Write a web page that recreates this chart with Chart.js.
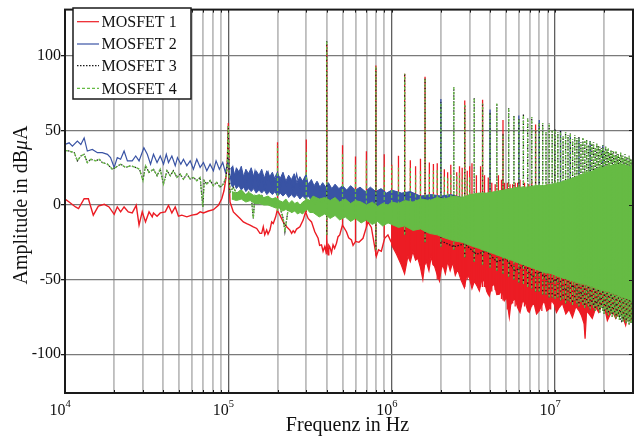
<!DOCTYPE html>
<html>
<head>
<meta charset="utf-8">
<script src="https://cdn.jsdelivr.net/npm/chart.js@4/dist/chart.umd.min.js"></script>
<style>
  html, body { margin: 0; padding: 0; background: #fff; }
  #wrap { width: 638px; height: 440px; }
</style>
</head>
<body>
<div id="wrap"><canvas id="c" width="638" height="440"></canvas></div>
<script>
// ---- Spectrum data: frequency in kHz, amplitude in dBµA ----

// Axis ticks
const xDecades = [1e4, 1e5, 1e6, 1e7];
const xDecadeExp = ['4', '5', '6', '7'];
const xMinorSteps = [1, 2, 3, 4, 5, 6, 7, 8, 9];
const yTicks = [-100, -50, 0, 50, 100];

const seriesNames = ['MOSFET 1', 'MOSFET 2', 'MOSFET 3', 'MOSFET 4'];

// MOSFET 1: low-frequency trace [f, dB]
const mosfet1Trace = [[10.0,4],[10.6,2],[11.6,-1.3],[12.1,-2.4],[13.1,4.2],[13.9,4.2],[14.9,-6.8],[16.0,-0.7],[17.4,0.5],[18.6,-1.3],[20.0,-6.2],[20.9,-1.3],[21.9,-4.6],[23.0,-1.3],[24.4,-4.6],[25.8,-5.3],[27.3,-0.2],[28.4,-13.4],[29.7,-4.6],[31.1,-11.3],[32.7,-4.6],[34.2,-7.9],[34.8,-5.3],[36.6,-7.5],[38.3,-5.3],[41.1,-4.6],[43.0,-0.2],[45.1,-5.3],[47.3,-1.3],[49.5,-7.5],[51.9,-6.8],[55.7,-7.9],[59.8,-6.8],[64.1,-6.2],[67.2,-4.6],[70.4,-5.3],[75.5,-4],[81.0,-3.1],[86.9,-0.2],[91.1,4.2],[94.1,9.7],[96.8,18.5],[98.6,29.6],[100,55],[101.2,15],[102.4,2],[107.3,-4.6],[112.5,-6.8],[117.9,-9],[123.5,-11.3],[129.5,-12.4],[135.7,-13.4],[142.1,-14.6],[149.1,-15.7],[156.2,-19],[159.9,-19],[163.6,-14.6],[167,-20],[171.6,-16.8],[175,-19.5],[179.7,-16.8],[184.1,-11.3],[188.3,-12.4],[194.8,-7.9],[199.2,-3.5],[206.9,-6.8],[216.7,-11.3],[227.3,-14.6],[238.1,-16.8],[244,-19],[249.4,-17.2],[255,-18.5],[261.7,-16.1],[274.1,-14.6],[287.0,-10.1],[296.9,-4.6],[307.8,-9],[322.9,-11.3],[338.2,-17.9],[354.4,-22.3],[362,-27],[371.7,-26.7],[380,-31],[389.4,-27.8],[395,-31],[401,-26],[407.9,-33.3],[412,-27],[417.8,-28],[428,-32],[437.5,-26.7],[447,-29],[459.0,-25.6],[469.4,-21.2],[480.8,-20],[499.3,-13.4],[528.3,-17.9],[545,-22],[566.8,-23.4],[580,-27],[599.6,-24.5],[608.1,-24.5],[630,-25],[667.3,-22.3],[715.6,-11.3],[750.6,-15],[786.2,-27.8],[805.4,-34.4],[830,-30],[864.0,-31],[905.1,-22.3],[948.1,-20],[985,-24],[1017,-26.7],[1050,-29],[1091,-31],[1144,-37.7]];

// MOSFET 1: dense high-frequency region [f, upper, lower]
const mosfet1Band = [[1000,-10,-27],[1070,-10,-33],[1144,-11,-40],[1199,-12,-46],[1256,-12,-34.4],[1300,-12,-38],[1347,-13,-31],[1400,-13,-37],[1445,-14,-35.6],[1500,-14,-42],[1551,-15,-49.9],[1590,-15,-40],[1627,-15,-37.7],[1690,-16,-44],[1745,-16,-34.4],[1790,-16,-40],[1828,-17,-41],[1900,-17,-47],[1961,-18,-51],[2010,-18,-43],[2055,-18,-40],[2130,-19,-46],[2203,-19,-37.7],[2280,-20,-44],[2364,-20,-38.6],[2450,-21,-47],[2536,-21,-43.2],[2650,-22,-50],[2786,-22,-55.4],[2880,-23,-47],[2990,-23,-48.8],[3100,-24,-56],[3207,-24,-51],[3320,-25,-54],[3440,-25,-57.6],[3560,-26,-50],[3692,-26,-51],[3820,-27,-58],[3960,-27,-61],[4100,-28,-54],[4249,-28,-53.2],[4400,-29,-60],[4558,-30,-59.8],[4720,-30,-57],[4891,-31,-64.2],[5050,-31,-62],[5247,-32,-75.3],[5350,-32,-67],[5495,-33,-64.2],[5700,-33,-63],[5896,-34,-68.7],[6100,-34,-72],[6324,-35,-64.2],[6600,-36,-66],[6800,-36,-71],[6950,-37,-72],[7200,-37,-67],[7455,-38,-66.4],[7700,-38,-73],[7997,-39,-70.9],[8300,-39,-67],[8580,-40,-64.2],[8900,-40,-71],[9205,-41,-69.7],[9500,-41,-64],[9874,-42,-66.4],[10200,-42,-72],[10593,-43,-68.7],[11100,-43,-66],[11638,-44,-73],[12200,-44,-70],[12773,-45,-75.3],[13400,-46,-68],[14031,-47,-70.9],[14500,-47,-74],[15054,-48,-79.7],[15267,-48,-89.6],[15600,-48,-71],[16148,-49,-73],[16900,-49,-76],[17748,-50,-68.7],[18500,-51,-72],[19471,-52,-66.4],[20200,-52,-70],[20893,-53,-77.5],[21600,-53,-74],[22408,-54,-70.9],[23500,-55,-76],[24626,-56,-72],[25800,-57,-74],[27054,-58,-80.8],[28000,-58,-73],[29030,-59,-77.5],[30000,-60,-75]];

// MOSFET 1: harmonic lines [f, peak, foot]
const mosfet1Lines = [[200,42,-3.5],[300,44,-4.6],[400,108,-33],[500,40,-13.4],[600,32.5,-24.5],[700,36,-15],[800,93.5,-34],[900,34,-22],[1000,27,-27],[1100,33,-31],[1200,88,-42],[1300,30,-34],[1400,26,-35],[1500,31,-40],[1600,86,-40],[1700,28.5,-36],[1800,27.5,-40],[1900,28,-50],[2100,24,-40],[2200,22,-38],[2300,27,-39],[2500,22,-43],[2600,26,-45],[2700,25,-50],[2800,70,-55],[2900,23,-50],[3000,26,-49],[3100,28,-50],[3300,20,-52],[3500,26,-55],[3600,70.5,-55],[3700,20,-55],[3900,18.5,-60],[4100,15,-58],[4300,14,-57],[4500,20,-60],[4700,17,-63],[4800,57,-64],[4900,15,-64],[5100,15,-70],[5300,14,-66],[5500,14,-66],[5700,15,-68],[5900,15,-68],[6100,17,-66],[6500,15,-68],[6900,14,-70],[7200,16.5,-68],[7600,54,-70],[7800,12,-70],[8300,13,-71],[8900,14,-70],[9400,12,-70]];

// MOSFET 2
const mosfet2Trace = [[10.0,40.6],[10.6,41.7],[11.1,39.5],[11.9,42.8],[12.5,40.6],[13.1,45],[13.7,36.2],[14.7,37.3],[15.8,35.1],[16.9,35.1],[18.2,34],[19.0,31.8],[20.0,25.2],[20.9,31.8],[21.9,30.7],[23.0,36.2],[24.1,29.6],[25.8,29.6],[27.1,32.9],[28.4,29.6],[30.4,38.4],[31.9,34],[33.4,27.4],[34.8,34],[36.6,28.5],[38.3,32.9],[40.1,27.4],[41.7,34],[43.0,28.5],[45.1,32.9],[47.3,26.3],[48.8,31.8],[51.2,27.4],[53.1,30.7],[55.7,26.3],[58.4,29.6],[61.1,24],[64.1,30.7],[67.2,25.2],[70.4,28.5],[73.8,23],[77.3,27.4],[81.0,23],[84.1,29.6],[88.1,24],[92.4,28.5],[95.9,21.9],[100,30],[102.4,16.4],[106.6,25.2],[110.5,15.2],[114.3,23],[117.9,19.7],[120.7,21.9],[127.4,11.9],[133.3,20.7],[140.0,14.1],[145.6,23],[152.6,13],[159.9,19.7],[167.4,10.8],[175.4,21.9],[184.1,13],[192.7,18.5],[200,22],[206.9,10.8],[216.7,19.7],[227.3,13],[238.1,17.4],[249.4,9.7],[261.7,20.7],[274.1,10.8],[287.0,15.2],[300,20],[307.8,10.8],[322.9,16.4],[338.2,8.6],[354.4,14.1],[371.7,7.5],[389.4,13]];

const mosfet2Band = [[103,24,15],[106,26,12],[109,20,14],[112,25,11],[116,22,13],[120,26,10],[124,19,12],[128,24,9],[133,21,11],[138,25,9],[143,19,11],[148,23,8],[154,20,10],[160,24,8],[166,18,10],[172,23,7],[179,19,9],[186,22,7],[193,17,9],[200,21,6],[208,18,8],[216,22,6],[225,16,8],[234,20,5],[243,17,7],[253,21,5],[263,15,7],[274,19,4],[285,16,6],[297,20,4],[309,14,6],[322,17,3],[335,13,5],[349,16,3],[363,12,4],[378,15,2],[394,12,3],[410,15,1],[430,11,2],[450,14,0],[475,11,1],[500,13,-1],[530,10,0],[560,13,-2],[600,10,-1],[640,12,-2],[690,9,-3],[740,12,-2],[800,9,-4],[860,11,-3],[930,8,-5],[1000,10,-5],[1150,8,-6],[1300,9,-8],[1500,6,-9],[1750,7,-11],[2000,6,-12],[2300,7,-14],[2700,5,-16],[3200,6,-19],[3800,6,-22],[4500,7,-25],[5500,8,-29],[7000,9,-34],[9000,11,-40],[12000,14,-46],[16000,18,-52],[22000,21,-57],[30000,21,-62]];

const mosfet2Lines = [[2000,71,-10],[4000,64,-20],[6000,60,-28],[8000,57,-36],[10800,50,-45],[12400,47,-48],[14000,45,-50],[16400,43,-52],[19600,40,-56]];

// MOSFET 3 / MOSFET 4 share the low-frequency trace and harmonic lines
const mosfet4Trace = [[10.0,36.6],[10.6,36.2],[11.4,35.1],[11.9,29.6],[12.5,32.9],[13.1,34],[13.7,28.5],[14.4,30.7],[15.4,29.6],[16.2,30.7],[16.9,28.5],[18.2,27.4],[19.5,24],[20.4,25.2],[21.9,27.4],[23.5,25.2],[25.2,26.3],[27.1,25.2],[28.6,24],[30.0,16.4],[31.1,26.3],[32.7,21.9],[34.8,24],[36.6,19.7],[38.3,24],[40.1,14.1],[42.1,23],[44.1,19.7],[46.1,23],[48.4,18.5],[50.7,20.7],[53.1,17.4],[55.7,20.7],[58.4,17.4],[61.1,18.5],[64.1,16.4],[67.2,18.5],[69.8,-1.3],[71.1,16.4],[73.8,14.1],[77.3,16.4],[81.0,13],[84.9,15.2],[89.0,11.9],[93.2,14.1],[96.8,18.5],[98.6,28],[100,53],[101.2,18],[102.4,8.6],[107.3,11.9],[112.5,7.5],[117.9,9.7],[120.7,9.7],[127.4,6.4],[133.3,8.6],[138.6,4.2],[142.1,-9],[145.6,6.4],[152.6,4.2],[159.9,6.4],[167.4,4.2],[175.4,2],[184.1,4.2],[192.7,2],[206.9,-1.3],[216.7,-9],[221.9,-17.9],[232.5,-2.4],[243.8,-4.6],[255.4,-1.3],[267.6,-3.5],[280.7,-0.2],[294.0,2],[307.8,2],[322.9,4.2],[338.2,0.9],[354.4,4.2],[371.7,2],[389.4,3.1]];

const mosfet4Band = [[105,9,4],[112,8,3],[120,10,4],[128,7,2],[136,8,3],[145,6,1],[155,7,1],[165,5,0],[175,6,0],[185,4,-1],[195,5,-2],[205,3,-2],[215,2,-4],[225,4,-3],[235,1,-4],[245,3,-5],[255,1,-4],[265,2,-6],[275,0,-5],[285,2,-6],[295,3,-4],[305,4,-3],[315,3,-5],[330,6,-5],[360,4,-8],[389,5,-6],[420,3,-9],[450,5,-7],[480,2,-10],[520,4,-8],[560,1,-11],[600,3,-9],[650,2,-12],[700,0,-10],[760,2,-13],[820,-1,-11],[880,1,-14],[950,0,-12],[1000,2,-13],[1100,1,-15],[1200,3,-14],[1350,2,-17],[1500,4,-16],[1700,3,-19],[1900,5,-20],[2100,4,-22],[2400,6,-24],[2700,5,-25],[3000,7,-27],[3400,8,-29],[3800,8,-31],[4300,9,-33],[4800,10,-35],[5400,11,-37],[6000,12,-39],[6800,12,-41],[7600,13,-43],[8500,13,-45],[9500,14,-46],[10500,15,-48],[12000,17,-50],[13500,19,-52],[15000,21,-53],[17000,23,-55],[19000,25,-57],[21000,26,-58],[23500,27,-60],[26000,27,-62],[28000,26,-63],[30000,26,-64]];

const mosfet3LowerEdge = [[2000,-24],[2400,-28],[2800,-26],[3300,-33],[3800,-31],[4400,-38],[5000,-36],[5700,-44],[6400,-41],[7300,-48],[8200,-45],[9200,-52],[10300,-50],[11500,-57],[12800,-54],[14200,-60],[15800,-58],[17500,-66],[19300,-62],[21300,-70],[23500,-66],[25500,-78],[27500,-72],[30000,-76]];

// odd 100 kHz harmonics [f, peak, foot]
const mosfet4SmallLines = [[200,40,-4],[300,37,0],[500,34,-8],[600,27,-8],[700,30,-9],[900,27,-10],[1000,26,-12],[1100,25,-13],[1300,25,-14],[1400,20,-15],[1500,23,-16],[1700,22,-18],[1800,23,-18],[1900,24,-19],[2100,20,-20],[2200,19,-21],[2300,21,-22],[2500,20,-23],[2600,22,-24],[2700,19,-25],[2900,18,-26],[3000,20,-27]];

// 400 kHz harmonics [f, peak, foot]
const mosfet4Lines = [[400,110,-20],[800,92.7,-30],[1200,88,-20],[1600,85,-25],[2000,69,-28],[2400,79,-30],[2800,67,-35],[3200,72,-38],[3600,68,-40],[4000,62,-42],[4400,68,-44],[4800,48,-46],[5200,65,-48],[5600,60,-50],[6000,58,-52],[6400,61,-53],[6800,58,-55],[7200,59,-56],[7600,50,-58],[8000,55,-58],[8400,55,-60],[8800,49,-60],[9200,55,-62],[9600,50,-62],[10000,51,-63],[10400,49,-62],[10800,50,-64],[11200,46,-63],[11600,49,-66],[12000,47,-64],[12400,48,-65],[12800,44,-67],[13200,47,-64],[13600,45,-66],[14000,46,-68],[14400,42,-65],[14800,45,-67],[15200,43,-69],[15600,44,-66],[16000,40,-68],[16400,43,-70],[16800,41,-67],[17200,42,-69],[17600,38,-71],[18000,41,-68],[18400,40,-70],[18800,39,-72],[19200,38,-69],[19600,40,-71],[20000,36,-73],[20400,39,-70],[20800,37,-72],[21200,38,-74],[21600,35,-71],[22000,37,-73],[22400,36,-75],[22800,36,-72],[23200,33,-74],[23600,36,-76],[24000,34,-73],[24400,34,-75],[24800,32,-77],[25200,35,-74],[25600,33,-76],[26000,33,-78],[26400,31,-75],[26800,34,-77],[27200,32,-79],[27600,32,-76],[28000,30,-78],[28400,33,-80],[28800,31,-77],[29200,31,-79],[29600,29,-78],[30000,31,-80]];

// ---- styling ----
const RED = '#ec1c24', BLUE = '#3953a4', BLACK = '#1a1a1a', GREEN = '#66bb44';
const legendStyle = [
  { color: RED, dash: [] },
  { color: BLUE, dash: [] },
  { color: BLACK, dash: [1.5, 1.5] },
  { color: GREEN, dash: [3, 2] }
];
const SERIF = '"Liberation Serif", "DejaVu Serif", serif';

const K = 1000;
const trace = arr => arr.map(p => ({ x: p[0] * K, y: p[1] }));
const bandEdge = (arr, i) => arr.map(p => ({ x: p[0] * K, y: p[i] }));
const lines = arr => arr.flatMap(p => [
  { x: p[0] * K, y: p[2] }, { x: p[0] * K, y: p[1] }, { x: p[0] * K, y: null }
]);
const ds = (data, color, order, extra) => Object.assign({
  data, borderColor: color, backgroundColor: color, borderWidth: 1.2,
  pointRadius: 0, tension: 0, fill: false, spanGaps: false, order
}, extra || {});

const datasets = [
  ds(bandEdge(mosfet1Band, 1), RED, 90, { borderWidth: 1 }),
  ds(bandEdge(mosfet1Band, 2), RED, 89, { fill: '-1', borderWidth: 1.2 }),
  ds(trace(mosfet1Trace), RED, 85, { borderWidth: 1.4 }),
  ds(lines(mosfet1Lines), RED, 84, { borderWidth: 1.3 }),

  ds(bandEdge(mosfet2Band, 1), BLUE, 70, { borderWidth: 1 }),
  ds(bandEdge(mosfet2Band, 2), BLUE, 69, { fill: '-1', borderWidth: 1 }),
  ds(trace(mosfet2Trace), BLUE, 65),
  ds(lines(mosfet2Lines), BLUE, 64, { borderWidth: 1.3 }),

  ds(trace(mosfet4Trace), BLACK, 55, { borderDash: [1.5, 1.5] }),
  ds(trace(mosfet3LowerEdge), BLACK, 54, { borderDash: [1.5, 1.5] }),
  ds(lines(mosfet4Lines), BLACK, 53, { borderDash: [1.5, 1.5], borderWidth: 1.3 }),

  ds(bandEdge(mosfet4Band, 1), GREEN, 40, { borderWidth: 1 }),
  ds(bandEdge(mosfet4Band, 2), GREEN, 39, { fill: '-1', borderWidth: 1 }),
  ds(trace(mosfet4Trace), GREEN, 35, { borderDash: [3, 2], borderWidth: 1.3 }),
  ds(lines(mosfet4SmallLines), GREEN, 31, { borderDash: [3, 2], borderWidth: 1.3 }),
  ds(lines(mosfet4Lines), GREEN, 30, { borderDash: [3, 2], borderWidth: 1.3 })
];

const xGridValues = [];
xDecades.forEach(d => xMinorSteps.forEach(m => { const v = d * m; if (v <= 3e7) xGridValues.push(v); }));
const isDecade = v => xDecades.includes(v);

// frame, inner ticks, axis labels and legend
const decor = {
  id: 'decor',
  afterDatasetsDraw(chart) {
    const { ctx, chartArea: a, scales: { x, y } } = chart;
    ctx.save();
    ctx.strokeStyle = BLACK; ctx.lineWidth = 1;
    ctx.beginPath();
    x.ticks.forEach(t => {
      const px = Math.round(x.getPixelForValue(t.value)) + 0.5;
      ctx.moveTo(px, a.bottom); ctx.lineTo(px, a.bottom - 3);
      ctx.moveTo(px, a.top); ctx.lineTo(px, a.top + 3);
    });
    y.ticks.forEach(t => {
      const py = Math.round(y.getPixelForValue(t.value)) + 0.5;
      ctx.moveTo(a.right, py); ctx.lineTo(a.right - 4, py);
    });
    ctx.stroke();
    ctx.lineWidth = 2;
    ctx.strokeRect(a.left, a.top, a.right - a.left, a.bottom - a.top);
    ctx.restore();
  },
  afterDraw(chart) {
    const { ctx, scales: { x } } = chart;
    ctx.save();
    ctx.fillStyle = '#111';
    // decade labels 10^n
    xDecades.forEach((d, i) => {
      const px = x.getPixelForValue(d);
      ctx.font = '16px ' + SERIF; ctx.textAlign = 'right'; ctx.textBaseline = 'alphabetic';
      ctx.fillText('10', px + 0.5, 415);
      ctx.font = '10.5px ' + SERIF; ctx.textAlign = 'left';
      ctx.fillText(xDecadeExp[i], px + 0.5, 407);
    });
    // x title
    ctx.font = '20px ' + SERIF; ctx.textAlign = 'center';
    ctx.fillText('Frequenz in Hz', 347.5, 431);
    // y title with italic mu
    ctx.save();
    ctx.translate(27, 205); ctx.rotate(-Math.PI / 2);
    const parts = [['Amplitude in dB', '20px ' + SERIF], ['\u03BC', 'italic 20px ' + SERIF], ['A', '20px ' + SERIF]];
    let total = 0;
    parts.forEach(p => { ctx.font = p[1]; total += ctx.measureText(p[0]).width; });
    let cx = -total / 2;
    ctx.textAlign = 'left';
    parts.forEach(p => { ctx.font = p[1]; ctx.fillText(p[0], cx, 0); cx += ctx.measureText(p[0]).width; });
    ctx.restore();

    // legend box
    const bx = 73, by = 8, bw = 118, bh = 91;
    ctx.fillStyle = '#fff';
    ctx.fillRect(bx, by, bw, bh);
    ctx.strokeStyle = BLACK; ctx.lineWidth = 1.5;
    ctx.strokeRect(bx, by, bw, bh);
    const rows = [21.7, 44, 65.7, 88.3];
    seriesNames.forEach((name, i) => {
      const st = legendStyle[i];
      ctx.strokeStyle = st.color; ctx.lineWidth = 1.2; ctx.setLineDash(st.dash);
      ctx.beginPath(); ctx.moveTo(77, rows[i]); ctx.lineTo(99, rows[i]); ctx.stroke();
      ctx.setLineDash([]);
      ctx.fillStyle = '#111'; ctx.font = '16px ' + SERIF;
      ctx.textAlign = 'left'; ctx.textBaseline = 'middle';
      ctx.fillText(name, 101.5, rows[i] + 1);
    });
    ctx.restore();
  }
};

new Chart(document.getElementById('c'), {
  type: 'line',
  data: { datasets },
  options: {
    responsive: false,
    animation: false,
    devicePixelRatio: 1,
    layout: { padding: { top: 5, right: 5, left: 0, bottom: 0 } },
    plugins: { legend: { display: false }, tooltip: { enabled: false } },
    scales: {
      x: {
        type: 'logarithmic', min: 1e4, max: 3e7,
        afterBuildTicks: s => { s.ticks = xGridValues.map(v => ({ value: v, major: isDecade(v) })); },
        afterFit: s => { s.height = 47; },
        grid: {
          color: c => (c.tick && isDecade(c.tick.value)) ? '#5f5f5f' : '#bdbdbd',
          lineWidth: c => (c.tick && isDecade(c.tick.value)) ? 1.3 : 1.8,
          drawTicks: false
        },
        border: { display: false },
        ticks: { display: false }
      },
      y: {
        min: -126, max: 131,
        afterBuildTicks: s => { s.ticks = yTicks.map(v => ({ value: v })); },
        afterFit: s => { s.width = 65; },
        grid: { color: '#7a7a7a', lineWidth: 1.3, drawTicks: true, tickLength: 4, tickColor: BLACK, tickWidth: 1.3 },
        border: { display: false },
        ticks: { font: { family: SERIF, size: 16 }, color: '#111', padding: 0 }
      }
    }
  },
  plugins: [decor]
});
</script>
</body>
</html>
